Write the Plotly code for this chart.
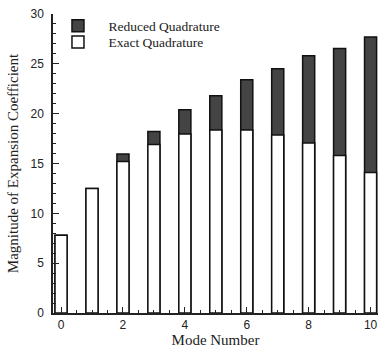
import plotly.graph_objects as go

modes = [0, 1, 2, 3, 4, 5, 6, 7, 8, 9, 10]
exact = [7.8, 12.5, 15.2, 16.9, 17.95, 18.35, 18.35, 17.85, 17.05, 15.8, 14.1]
reduced = [7.8, 12.5, 15.95, 18.2, 20.4, 21.8, 23.4, 24.5, 25.8, 26.55, 27.7]

fig = go.Figure()
fig.add_trace(go.Bar(x=modes, y=reduced, name="Reduced Quadrature", width=0.39, legend="legend",
                     marker=dict(color="#444444", line=dict(color="#111111", width=1.5))))
fig.add_trace(go.Bar(x=modes, y=exact, name="Exact Quadrature", width=0.39, legend="legend2",
                     marker=dict(color="white", line=dict(color="#111111", width=1.5))))

leg_common = dict(xanchor="left", yanchor="middle", bgcolor="rgba(0,0,0,0)",
                  font=dict(family="Liberation Serif", size=13.5, color="#222"), itemwidth=51)
fig.update_layout(
    width=379, height=351,
    margin=dict(l=53, r=1, t=14, b=38),
    barmode="overlay",
    plot_bgcolor="white", paper_bgcolor="white",
    showlegend=True,
    legend=dict(x=-0.017, y=0.960, **leg_common),
    legend2=dict(x=-0.017, y=0.906, **leg_common),
    font=dict(family="Liberation Sans", size=12, color="#222"),
)
fig.update_xaxes(range=[-0.26, 10.24], tickmode="linear", tick0=0, dtick=2,
                 ticks="inside", ticklen=6, tickcolor="#222", tickwidth=1,
                 showline=True, linecolor="#222", linewidth=1.5, showgrid=False, zeroline=False,
                 minor=dict(ticks="inside", dtick=0.5, ticklen=3, tickcolor="#222", showgrid=False),
                 title=dict(text="Mode Number", font=dict(family="Liberation Serif", size=15, color="#222"), standoff=2),
                 tickfont=dict(family="Liberation Sans", size=12, color="#222"))
fig.update_yaxes(range=[0, 30], tickmode="linear", tick0=0, dtick=5,
                 ticks="inside", ticklen=6, tickcolor="#222", tickwidth=1,
                 showline=True, linecolor="#222", linewidth=1.5, showgrid=False, zeroline=False,
                 minor=dict(ticks="inside", dtick=1, ticklen=3, tickcolor="#222", showgrid=False),
                 ticklabelstandoff=5,
                 title=dict(text="Magnitude of Expansion Coefficient", font=dict(family="Liberation Serif", size=15, color="#222"), standoff=8),
                 tickfont=dict(family="Liberation Sans", size=12, color="#222"))

fig.write_html("out.html", config={"displayModeBar": False},
               post_script="document.body.style.margin='0';document.body.style.overflow='hidden';")
